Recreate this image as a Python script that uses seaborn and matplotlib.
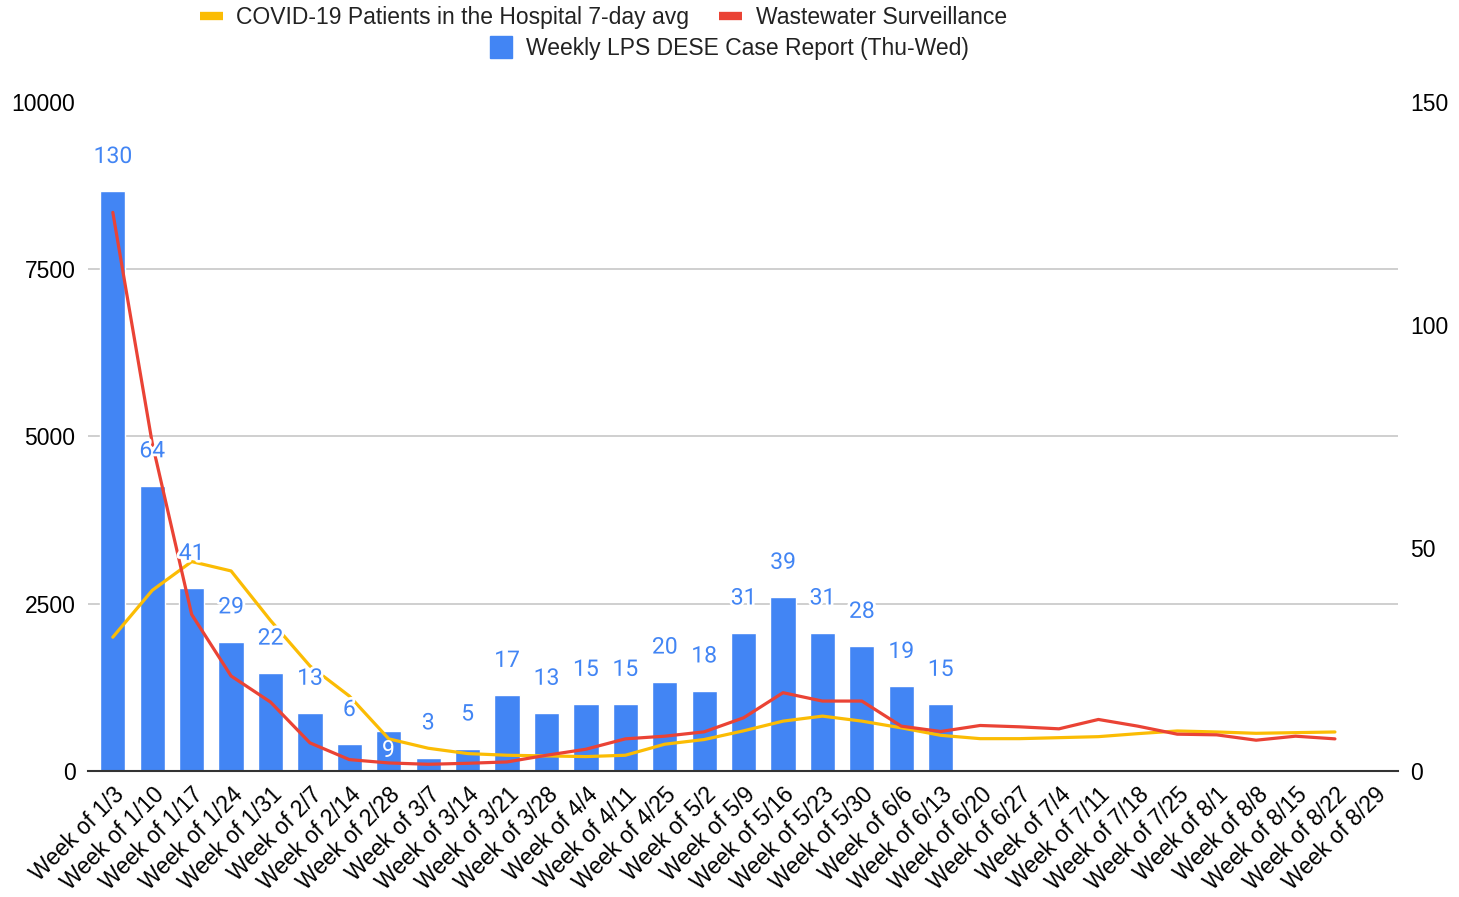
import matplotlib
matplotlib.use("Agg")
import matplotlib.pyplot as plt
import matplotlib.patheffects as pe
from matplotlib.lines import Line2D
from matplotlib.ticker import FixedLocator
import seaborn as sns
import pandas as pd
import numpy as np

# ---- data ----
weeks = ["Week of 1/3", "Week of 1/10", "Week of 1/17", "Week of 1/24", "Week of 1/31",
         "Week of 2/7", "Week of 2/14", "Week of 2/28", "Week of 3/7", "Week of 3/14",
         "Week of 3/21", "Week of 3/28", "Week of 4/4", "Week of 4/11", "Week of 4/25",
         "Week of 5/2", "Week of 5/9", "Week of 5/16", "Week of 5/23", "Week of 5/30",
         "Week of 6/6", "Week of 6/13", "Week of 6/20", "Week of 6/27", "Week of 7/4",
         "Week of 7/11", "Week of 7/18", "Week of 7/25", "Week of 8/1", "Week of 8/8",
         "Week of 8/15", "Week of 8/22", "Week of 8/29"]

# weekly case report (right axis)
cases = [130, 64, 41, 29, 22, 13, 6, 9, 3, 5, 17, 13, 15, 15, 20, 18, 31, 39, 31, 28, 19, 15]

# hospital 7-day avg and wastewater (left axis)
hospital = [2000, 2700, 3130, 2990, 2250, 1570, 1120, 480, 340, 260, 235, 225, 215, 235,
            400, 470, 600, 745, 820, 745, 645, 533, 483, 483, 498, 513, 558, 598, 583,
            563, 573, 583]
wastewater = [8350, 4900, 2340, 1420, 1030, 420, 170, 120, 100, 115, 135, 235, 325, 480,
              520, 585, 795, 1170, 1045, 1045, 670, 590, 680, 660, 630, 770, 670, 550,
              540, 460, 520, 480]

left_ticks = [0, 2500, 5000, 7500, 10000]
right_ticks = [0, 50, 100, 150]
inside_labels = ["Week of 2/28"]

blue = "#4285F4"
red = "#EA4335"
yellow = "#FBBC04"
fs = 16.5

sns.set_theme(style="white")
plt.rcParams['font.family'] = ['Liberation Sans', 'DejaVu Sans']
plt.rcParams['text.color'] = 'black'
plt.rcParams['xtick.color'] = 'black'
plt.rcParams['ytick.color'] = 'black'

fig = plt.figure(figsize=(14.59, 8.97), dpi=100)
ax_bar = fig.add_axes([0.0603, 0.1405, 0.8979, 0.7458])

bar_df = pd.DataFrame({"week": weeks[:len(cases)], "cases": cases})
sns.barplot(data=bar_df, x="week", y="cases", order=weeks, color=blue,
            saturation=1, width=0.64, ax=ax_bar)

ax_line = ax_bar.twinx()
sns.lineplot(x=np.arange(len(hospital)), y=hospital, ax=ax_line, color=yellow, lw=2.3)
sns.lineplot(x=np.arange(len(wastewater)), y=wastewater, ax=ax_line, color=red, lw=2.3)

# bar axis: right side, 0-150
ax_bar.set_ylim(0, 150)
ax_bar.yaxis.tick_right()
ax_bar.set_yticks(right_ticks)
ax_bar.set_yticklabels([str(t) for t in right_ticks], fontsize=fs)
ax_bar.yaxis.set_minor_locator(FixedLocator([t * 150 / 10000 for t in left_ticks[1:]]))
ax_bar.grid(which='minor', axis='y', color='#cccccc', lw=1.3)
ax_bar.set_axisbelow(True)
ax_bar.tick_params(which='both', length=0)
ax_bar.tick_params(axis='y', pad=9)

# line axis: left side, 0-10000
ax_line.set_ylim(0, 10000)
ax_line.yaxis.tick_left()
ax_line.set_yticks(left_ticks)
ax_line.set_yticklabels([str(t) for t in left_ticks], fontsize=fs)
ax_line.tick_params(length=0, pad=9)

ax_bar.set_xlim(-0.63, 32.6)
ax_bar.set_xticks(range(len(weeks)))
ax_bar.set_xticklabels(weeks, rotation=45, ha='right', rotation_mode='anchor', fontsize=fs)
ax_bar.tick_params(axis='x', pad=9)

for a in (ax_bar, ax_line):
    a.set_xlabel('')
    a.set_ylabel('')
    for s in a.spines.values():
        s.set_visible(False)
ax_bar.spines['bottom'].set_visible(True)
ax_bar.spines['bottom'].set_color('#333333')
ax_bar.spines['bottom'].set_linewidth(1.5)

# data labels, drawn above the lines
for i, v in enumerate(cases):
    if weeks[i] in inside_labels:
        ax_line.annotate(str(v), xy=(i, v), xycoords=ax_bar.transData, xytext=(0, -14),
                         textcoords='offset points', ha='center', va='center',
                         fontsize=fs, color='white', family='Roboto')
    else:
        ax_line.annotate(str(v), xy=(i, v), xycoords=ax_bar.transData, xytext=(0, 25),
                         textcoords='offset points', ha='center', va='center',
                         fontsize=fs, color=blue, family='Roboto',
                         path_effects=[pe.withStroke(linewidth=4, foreground='white')])

# legend
h_yellow = Line2D([], [], color=yellow, lw=6, solid_capstyle='butt')
h_red = Line2D([], [], color=red, lw=6, solid_capstyle='butt')
h_blue = Line2D([], [], color=blue, marker='s', markersize=16, linestyle='none')
fig.legend(handles=[h_yellow, h_red],
           labels=["COVID-19 Patients in the Hospital 7-day avg", "Wastewater Surveillance"],
           loc='center', bbox_to_anchor=(0.4136, 0.981), ncol=2, frameon=False,
           fontsize=fs, handlelength=1.0, handletextpad=0.6, columnspacing=1.3,
           labelcolor='#222222')
fig.legend(handles=[h_blue], labels=["Weekly LPS DESE Case Report (Thu-Wed)"],
           loc='center', bbox_to_anchor=(0.5, 0.946), frameon=False,
           fontsize=fs, handlelength=1.0, handletextpad=0.6, labelcolor='#222222')

fig.savefig("out.png", dpi=100)
